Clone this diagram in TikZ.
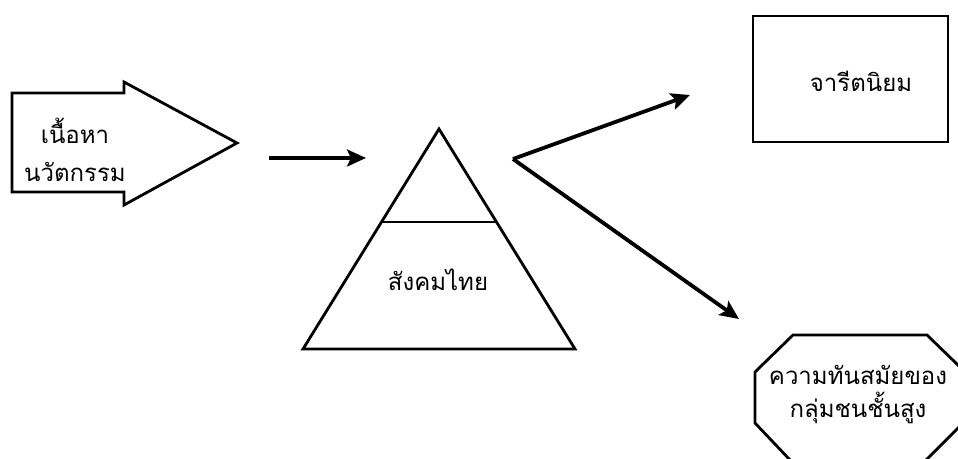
\documentclass[tikz,border=0pt]{standalone}
\usepackage{fontspec}
\newfontfamily\thaifont[Script=Thai]{Loma}
\usetikzlibrary{arrows.meta}
\tikzset{
  shapeline/.style={draw=black, line width=2.8pt, line join=miter},
  thinline/.style={draw=black, line width=2pt},
  conn/.style={draw=black, line width=3.8pt, -{Stealth[length=19pt,width=17pt,inset=4pt]}},
  lbl/.style={font=\thaifont\fontsize{24}{38}\selectfont, align=center, inner sep=0pt},
  lbltight/.style={font=\thaifont\fontsize{24}{33}\selectfont, align=center, inner sep=0pt}
}
\begin{document}
\begin{tikzpicture}[x=1pt,y=-1pt]
\useasboundingbox (0,0) rectangle (958,458);
% left block arrow
\draw[shapeline] (12,93) -- (124,93) -- (124,82) -- (237,143) -- (124,205) -- (124,192) -- (12,192) -- cycle;
\node[lbl] (content) at (75,150) {เนื้อหา\\นวัตกรรม};
% arrow into triangle
\coordinate (a1s) at (269,158);
\coordinate (a1e) at (366,158);
\draw[conn] (a1s) -- (a1e);
% triangle
\coordinate (apex) at (439,129);
\coordinate (bl) at (303,349);
\coordinate (br) at (575,349);
\draw[shapeline] (apex) -- (bl) -- (br) -- cycle;
\coordinate (hl) at (381.5,222);
\coordinate (hr) at (496.5,222);
\draw[thinline] (hl) -- (hr);
\node[lbl] (thai) at (438,280) {สังคมไทย};
% branching arrows
\coordinate (v) at (513,159);
\coordinate (up) at (690,95);
\coordinate (down) at (739,319);
\draw[conn] (v) -- (up);
\draw[conn] (v) -- (down);
% rectangle
\node[draw=black, line width=2pt, minimum width=195pt, minimum height=126pt, inner sep=0pt] (box) at (850.5,79) {};
\node[lbl] (trad) at (861,81) {จารีตนิยม};
% octagon
\draw[shapeline] (793,335) -- (927,335) -- (961,368) -- (961,425) -- (925,461) -- (791,461) -- (755,423) -- (755,372) -- cycle;
\node[lbltight] (modern) at (858,395) {ความทันสมัยของ\\กลุ่มชนชั้นสูง};
\end{tikzpicture}
\end{document}
